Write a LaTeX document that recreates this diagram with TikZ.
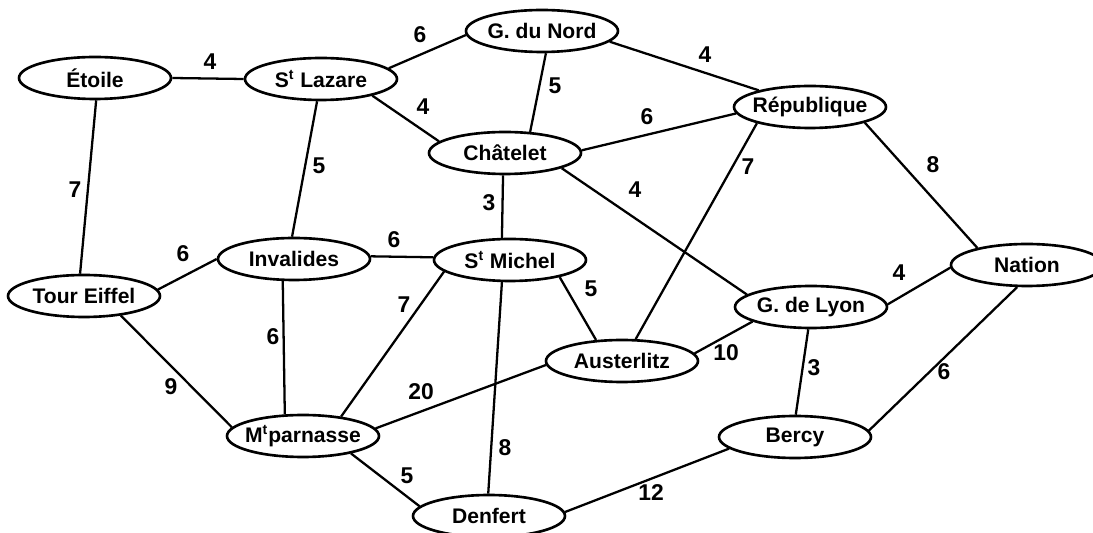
\documentclass[tikz,border=0pt]{standalone}
\usepackage{fontspec}
\setmainfont{Liberation Sans}
\usetikzlibrary{shapes.geometric}

\begin{document}
\begin{tikzpicture}[x=0.02cm, y=-0.02cm,
        station/.style={ellipse, draw, line width=1.5pt, minimum width=3.04cm, minimum height=0.84cm, inner xsep=-4pt, inner ysep=0pt, font=\fontsize{12}{14}\selectfont\bfseries},
        poids/.style={inner sep=0pt, font=\fontsize{13}{15}\selectfont\bfseries},
        ligne/.style={line width=1.3pt}]

        \useasboundingbox (0,0) rectangle (1093,533);

        % Stations du haut
        \node[station] (etoile) at (95,78) {Étoile};
        \node[station] (lazare) at (321,79) {S\textsuperscript{t} Lazare};
        \node[station] (nord) at (542,31) {G. du Nord};
        \node[station] (repu) at (810,107) {République};
        \node[station] (chatelet) at (505,153) {Châtelet};

        % Stations du milieu
        \node[station] (eiffel) at (84,296) {Tour Eiffel};
        \node[station] (invalides) at (294,259) {Invalides};
        \node[station] (michel) at (510,260) {S\textsuperscript{t} Michel};
        \node[station] (nation) at (1027,265) {Nation};
        \node[station] (lyon) at (811,307) {G. de Lyon};
        \node[station] (austerlitz) at (622,361) {Austerlitz};

        % Stations du bas
        \node[station] (parnasse) at (303,436) {M\textsuperscript{t}parnasse};
        \node[station] (bercy) at (795,437) {Bercy};
        \node[station] (denfert) at (489,516) {Denfert};

        % Lignes entre les stations
        \draw[ligne] (etoile.0) -- (lazare.180);
        \draw[ligne] (etoile.-87) -- (eiffel.100);
        \draw[ligne] (lazare.9) -- (nord.183);
        \draw[ligne] (lazare.-18) -- (chatelet.170);
        \draw[ligne] (lazare.-100) -- (invalides.95);
        \draw[ligne] (nord.-80) -- (chatelet.40);
        \draw[ligne] (nord.-9) -- (repu.162);
        \draw[ligne] (chatelet.2) -- (repu.185);
        \draw[ligne] (chatelet.-95) -- (michel.110);
        \draw[ligne] (chatelet.-15) -- (lyon.169);
        \draw[ligne] (repu.-163) -- (austerlitz.58);
        \draw[ligne] (repu.-16) -- (nation.161);
        \draw[ligne] (eiffel.5) -- (invalides.180);
        \draw[ligne] (eiffel.-28) -- (parnasse.173);
        \draw[ligne] (invalides.2) -- (michel.178);
        \draw[ligne] (invalides.-117) -- (parnasse.130);
        \draw[ligne] (michel.-19) -- (austerlitz.141);
        \draw[ligne] (michel.-170) -- (parnasse.27);
        \draw[ligne] (michel.-110) -- (denfert.92);
        \draw[ligne] (nation.-178) -- (lyon.2);
        \draw[ligne] (nation.-114) -- (bercy.5);
        \draw[ligne] (lyon.-166) -- (austerlitz.6);
        \draw[ligne] (lyon.-97) -- (bercy.88);
        \draw[ligne] (austerlitz.-177) -- (parnasse.6);
        \draw[ligne] (parnasse.-20) -- (denfert.172);
        \draw[ligne] (denfert.3) -- (bercy.-170);

        % Temps de trajet
        \node[poids] (p1) at (210,62) {4};
        \node[poids] (p2) at (75,190) {7};
        \node[poids] (p3) at (420,35) {6};
        \node[poids] (p4) at (423,107) {4};
        \node[poids] (p5) at (319,166) {5};
        \node[poids] (p6) at (555,86) {5};
        \node[poids] (p7) at (705,55) {4};
        \node[poids] (p8) at (647,117) {6};
        \node[poids] (p9) at (748,167) {7};
        \node[poids] (p10) at (933,165) {8};
        \node[poids] (p11) at (635,190) {4};
        \node[poids] (p12) at (489,203) {3};
        \node[poids] (p13) at (394,240) {6};
        \node[poids] (p14) at (183,254) {6};
        \node[poids] (p15) at (899,273) {4};
        \node[poids] (p16) at (591,289) {5};
        \node[poids] (p17) at (404,305) {7};
        \node[poids] (p18) at (273,337) {6};
        \node[poids] (p19) at (171,387) {9};
        \node[poids] (p20) at (726,353) {10};
        \node[poids] (p21) at (814,368) {3};
        \node[poids] (p22) at (944,372) {6};
        \node[poids] (p23) at (421,392) {20};
        \node[poids] (p24) at (505,448) {8};
        \node[poids] (p25) at (407,476) {5};
        \node[poids] (p26) at (651,493) {12};

\end{tikzpicture}
\end{document}
